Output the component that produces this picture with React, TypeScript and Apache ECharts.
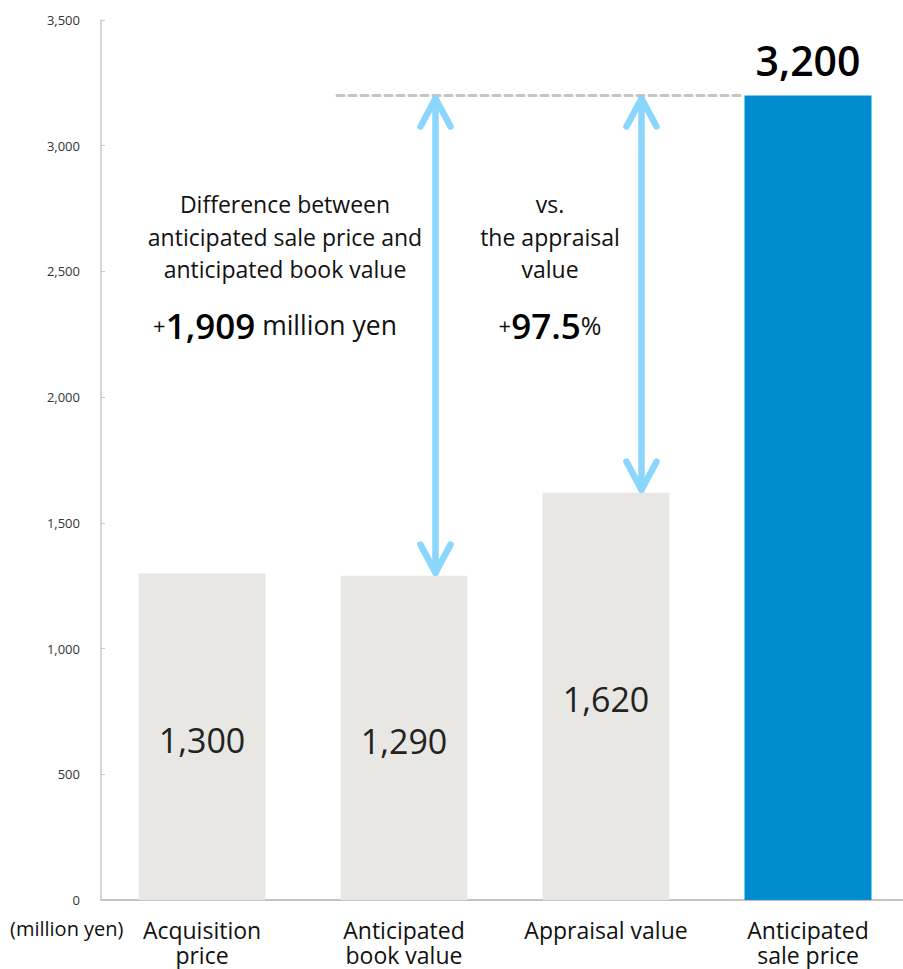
import React, { useEffect, useRef } from "react";
import * as echarts from "echarts";

const categories = ["Acquisition\nprice", "Anticipated\nbook value", "Appraisal value", "Anticipated\nsale price"];
const values = [1300, 1290, 1620, 3200];
const yTicks = { min: 0, max: 3500, interval: 500 };
// arrows: [category index, from value, to value]
const arrows = [
  [1, 3200, 1290],
  [2, 3200, 1620],
];
// dashed reference line: [from category, to category, value]
const refLine = [[1, 3, 3200]];

const FONT = "'Open Sans', 'Noto Sans', sans-serif";
const GRAY = "#e8e7e3";
const BLUE = "#008ccf";
const ARROW = "#8ad6fd";

export default function App() {
  const ref = useRef<HTMLDivElement>(null);
  useEffect(() => {
    document.body.style.margin = "0";
    const chart = echarts.init(ref.current!, null, { renderer: "svg" });
    chart.setOption({
      animation: false,
      textStyle: { fontFamily: FONT },
      grid: { left: 101, top: 20, width: 808, height: 880 },
      xAxis: {
        type: "category",
        data: categories,
        axisLine: { lineStyle: { color: "#c4c4c4", width: 2 } },
        axisTick: { show: false },
        axisLabel: { interval: 0, fontSize: 23, lineHeight: 25, color: "#111", margin: 17, fontFamily: FONT },
      },
      yAxis: {
        type: "value",
        min: yTicks.min,
        max: yTicks.max,
        interval: yTicks.interval,
        splitLine: { show: false },
        axisLine: { show: true, lineStyle: { color: "#c8c8c8", width: 1.5 } },
        axisTick: { show: true, inside: true, length: 4, lineStyle: { color: "#c8c8c8" } },
        axisLabel: {
          fontSize: 13,
          color: "#333",
          margin: 21,
          fontFamily: FONT,
          formatter: (v: number) => v.toLocaleString("en-US"),
        },
      },
      series: [
        {
          type: "bar",
          barWidth: 127,
          data: values.map((v, i) =>
            i === values.length - 1
              ? {
                  value: v,
                  itemStyle: { color: BLUE },
                  label: { position: "top", fontSize: 41, fontWeight: 600, color: "#000", distance: 18 },
                }
              : { value: v, itemStyle: { color: GRAY } }
          ),
          label: {
            show: true,
            position: "inside",
            offset: [0, 3],
            fontSize: 34,
            color: "#222",
            fontFamily: FONT,
            formatter: (p: any) => Number(p.value).toLocaleString("en-US"),
          },
        },
        {
          type: "custom",
          clip: false,
          z: 5,
          data: refLine,
          renderItem: (params: any, api: any) => {
            const a = api.coord([api.value(0), api.value(2)]);
            const b = api.coord([api.value(1), api.value(2)]);
            return {
              type: "line",
              shape: { x1: a[0] - 67, y1: a[1], x2: b[0] - 67, y2: b[1] },
              style: { stroke: "#c8c6bd", lineWidth: 3, lineDash: [7, 5], lineCap: "round" },
            };
          },
        },
        {
          type: "custom",
          clip: false,
          z: 6,
          data: arrows,
          renderItem: (params: any, api: any) => {
            const idx = api.value(0);
            const top = api.coord([idx, api.value(1)]);
            const bot = api.coord([idx, api.value(2)]);
            const x = top[0] + (idx === 1 ? 31.5 : 35.5);
            const y1 = top[1] + 3;
            const y2 = bot[1] - 3;
            const st = { stroke: ARROW, lineWidth: 6.5, lineCap: "round", lineJoin: "round", fill: null };
            return {
              type: "group",
              children: [
                { type: "line", shape: { x1: x, y1: y1, x2: x, y2: y2 }, style: st },
                { type: "polyline", shape: { points: [[x - 15, y1 + 28], [x, y1], [x + 15, y1 + 28]] }, style: st },
                { type: "polyline", shape: { points: [[x - 15, y2 - 28], [x, y2], [x + 15, y2 - 28]] }, style: st },
              ],
            };
          },
        },
      ],
      graphic: [
        {
          type: "text",
          left: 10,
          top: 918,
          style: { text: "(million yen)", fontSize: 20, fill: "#111", fontFamily: FONT },
        },
        {
          type: "text",
          x: 285,
          y: 188,
          style: {
            text: "Difference between\nanticipated sale price and\nanticipated book value",
            fontSize: 23,
            lineHeight: 32.5,
            fill: "#111",
            align: "center",
            fontFamily: FONT,
          },
        },
        {
          type: "text",
          x: 275,
          y: 325,
          style: {
            text: "{p|+}{b|1,909}{s| million yen}",
            align: "center",
            verticalAlign: "middle",
            fontFamily: FONT,
            rich: {
              p: { fontSize: 22, fill: "#111", fontFamily: FONT },
              s: { fontSize: 26.5, fill: "#111", fontFamily: FONT },
              b: { fontSize: 35, fontWeight: 600, fill: "#000", fontFamily: FONT },
            },
          },
        },
        {
          type: "text",
          x: 550,
          y: 188,
          style: {
            text: "vs.\nthe appraisal\nvalue",
            fontSize: 23,
            lineHeight: 32.5,
            fill: "#111",
            align: "center",
            fontFamily: FONT,
          },
        },
        {
          type: "text",
          x: 550,
          y: 325,
          style: {
            text: "{p|+}{b|97.5}{s|%}",
            align: "center",
            verticalAlign: "middle",
            fontFamily: FONT,
            rich: {
              p: { fontSize: 22, fill: "#111", fontFamily: FONT },
              s: { fontSize: 25, fill: "#111", fontFamily: FONT },
              b: { fontSize: 35, fontWeight: 600, fill: "#000", fontFamily: FONT },
            },
          },
        },
      ],
    });
    return () => chart.dispose();
  }, []);
  return (
    <div style={{ width: 903, height: 969, overflow: "hidden" }}>
      <div ref={ref} style={{ width: 912, height: 969 }} />
    </div>
  );
}
